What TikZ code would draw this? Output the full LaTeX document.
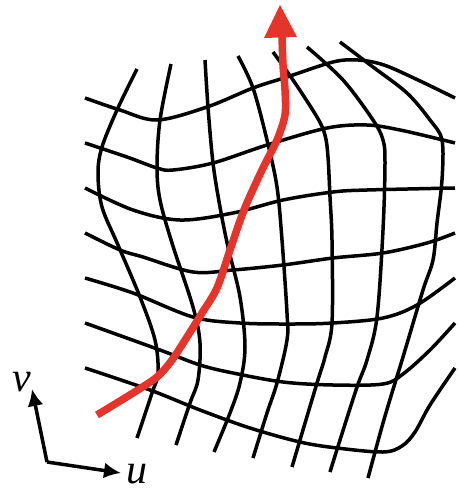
\documentclass[tikz,border=0pt]{standalone}
\usepackage{fontspec}
\setmainfont{Liberation Serif}
\usetikzlibrary{arrows.meta}
\definecolor{pathred}{RGB}{228,52,44}
\tikzset{
  meshline/.style={line width=3.5pt, black},
  redpath/.style={line width=7.5pt, pathred},
  axisarrow/.style={line width=3.5pt, -{Latex[length=17pt,width=16pt]}},
  axislabel/.style={font=\fontsize{42}{42}\selectfont\itshape, inner sep=0pt}
}
\begin{document}
\begin{tikzpicture}[x=1pt,y=-1pt]
\useasboundingbox (0,0) rectangle (458,493);
% horizontal curves
\draw[meshline] plot[smooth,tension=0.55] coordinates {(85,98) (120,110) (157,120) (207,107) (253,88) (287,77) (333,62) (358,60) (384,65) (418,80) (455,98)};
\draw[meshline] plot[smooth,tension=0.55] coordinates {(85,143) (127,157) (157,168) (173,170) (213,163) (267,145) (327,128) (367,125) (400,130) (443,140) (455,143)};
\draw[meshline] plot[smooth,tension=0.55] coordinates {(85,188) (133,210) (180,220) (233,213) (283,200) (333,192) (367,190) (455,188)};
\draw[meshline] plot[smooth,tension=0.55] coordinates {(85,233) (120,250) (143,257) (193,272) (233,270) (283,265) (333,258) (383,253) (427,243) (455,233)};
\draw[meshline] plot[smooth,tension=0.55] coordinates {(85,278) (133,293) (193,317) (240,323) (290,324) (333,323) (383,318) (417,305) (455,278)};
\draw[meshline] plot[smooth,tension=0.55] coordinates {(85,323) (160,350) (200,365) (233,373) (283,382) (333,385) (383,384) (403,374) (430,350) (455,323)};
\draw[meshline] plot[smooth,tension=0.55] coordinates {(85,368) (150,390) (200,410) (250,428) (300,442) (337,448) (383,452) (402,446) (415,432) (430,405) (455,368)};
% vertical curves
\draw[meshline] plot[smooth,tension=0.55] coordinates {(137,69) (117,110) (102,147) (98,173) (102,207) (118,245) (140,297) (155,340) (158,373) (152,393) (137,438)};
\draw[meshline] plot[smooth,tension=0.55] coordinates {(171,64) (160,120) (157,167) (160,200) (172,243) (193,307) (200,343) (198,380) (190,403) (176,445)};
\draw[meshline] plot[smooth,tension=0.55] coordinates {(205,60) (208,107) (213,163) (220,207) (228,247) (240,297) (245,347) (240,383) (230,413) (214,452)};
\draw[meshline] plot[smooth,tension=0.55] coordinates {(238,56) (253,88) (267,140) (277,187) (282,240) (287,313) (287,340) (277,383) (267,413) (253,458)};
\draw[meshline] plot[smooth,tension=0.55] coordinates {(273,52) (293,80) (317,117) (325,135) (328,157) (330,197) (332,240) (332,323) (325,357) (317,383) (300,440) (292,467)};
\draw[meshline] plot[smooth,tension=0.55] coordinates {(307,47) (343,80) (373,120) (383,140) (385,163) (383,230) (377,317) (367,360) (357,387) (340,440) (330,472)};
\draw[meshline] plot[smooth,tension=0.55] coordinates {(340,42) (373,67) (407,93) (430,120) (442,140) (442,180) (437,223) (433,260) (423,290) (403,357) (395,383) (383,423) (368,478)};
% red path
\draw[redpath] plot[smooth,tension=0.5] coordinates {(97,415) (133,393) (157,377) (172,360) (187,337) (202,313) (217,288) (230,250) (244,210) (262,170) (277,140) (285,115) (285,90) (283,65) (282,36)};
\fill[pathred] (280,5) -- (264,38) -- (297,37) -- cycle;
% axes
\coordinate (o) at (47,462);
\coordinate (vt) at (32,389);
\coordinate (ut) at (121,473);
\draw[axisarrow] (o) -- (vt);
\draw[axisarrow] (o) -- (ut);
\node[axislabel] (vl) at (22,382) {v};
\node[axislabel, anchor=base] (ul) at (137,483) {u};
\end{tikzpicture}
\end{document}
